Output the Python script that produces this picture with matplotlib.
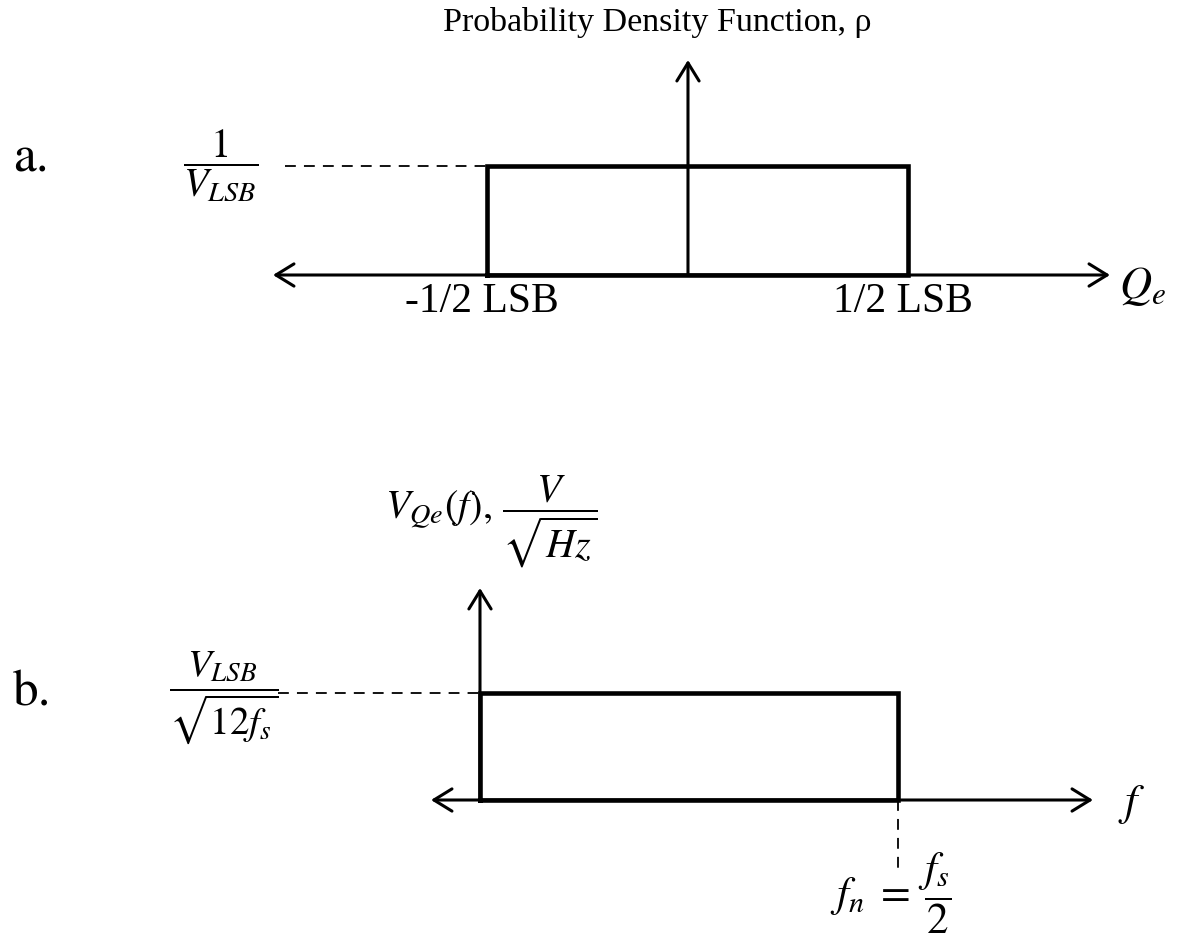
import matplotlib
matplotlib.use("Agg")
import matplotlib.pyplot as plt

# uniform quantization error: pdf height 1/V_LSB between -1/2 and +1/2 LSB
q_edges = [-0.5, 0.5]
pdf_level = 1.0
# quantization noise density, flat from dc up to f_n = f_s/2
f_edges = [0.0, 0.5]
noise_level = 1.0

W, H = 1183, 942
plt.rcParams["mathtext.fontset"] = "stix"
serif = ["Liberation Serif", "DejaVu Serif"]

fig = plt.figure(figsize=(W / 100, H / 100), dpi=100)


def px_axes(left, right, top, bottom):
    ax = fig.add_axes([left / W, 1 - bottom / H, (right - left) / W, (bottom - top) / H])
    ax.set_axis_off()
    return ax


def px_text(x, y, s, **kw):
    fig.text(x / W, 1 - y / H, s, **kw)


def arrow(ax, start, end, style, coords="axes fraction"):
    ax.annotate("", xy=end, xytext=start, xycoords=coords, textcoords=coords,
                arrowprops=dict(arrowstyle=style + ",head_length=0.65,head_width=0.4",
                                lw=2.2, color="black", mutation_scale=20,
                                shrinkA=0, shrinkB=0),
                annotation_clip=False)


def box(ax, edges, level):
    xs = [edges[0], edges[0], edges[1], edges[1], edges[0]]
    ys = [0, level, level, 0, 0]
    ax.plot(xs, ys, color="black", lw=3.3, solid_joinstyle="miter", clip_on=False)


# ---- a. probability density function ----
ax_a = px_axes(273, 1110, 60, 275)
ax_a.set_xlim(-1.0083, 0.9798)
ax_a.set_ylim(0, 1.972)
arrow(ax_a, (0, 0), (1, 0), "<->")
arrow(ax_a, (0.4958, 0), (0.4958, 1), "->")
box(ax_a, q_edges, pdf_level)
ax_a.plot([-0.98, q_edges[0]], [pdf_level, pdf_level], color="black", lw=1.3,
          dashes=(6, 4.5), clip_on=False)

px_text(657, 22, "Probability Density Function, \u03c1", fontsize=24.5,
        family=serif, ha="center", va="center")
px_text(13, 171, "a.", fontsize=37, family="STIXGeneral", ha="left", va="baseline")
px_text(221, 166, r"$\dfrac{1}{V_{LSB}}$", fontsize=29, ha="center", va="center")
px_text(482, 312, "-1/2 LSB", fontsize=30, family=serif, ha="center", va="baseline")
px_text(903, 312, "1/2 LSB", fontsize=30, family=serif, ha="center", va="baseline")
px_text(1119, 287, r"$Q_e$", fontsize=32, ha="left", va="center")

# ---- b. noise spectral density ----
ax_b = px_axes(431, 1093, 588, 800)
ax_b.set_xlim(-0.0586, 0.7333)
ax_b.set_ylim(0, 1.981)
arrow(ax_b, (0, 0), (1, 0), "<->")
arrow(ax_b, (f_edges[0], 0), (f_edges[0], 1.981), "->", coords="data")
box(ax_b, f_edges, noise_level)
ax_b.plot([-0.2416, f_edges[0]], [noise_level, noise_level], color="black", lw=1.3,
          dashes=(6, 4.5), clip_on=False)
ax_b.plot([f_edges[1], f_edges[1]], [0, -0.654], color="black", lw=1.3,
          dashes=(6, 4.5), clip_on=False)

px_text(13, 706, "b.", fontsize=37, family="STIXGeneral", ha="left", va="baseline")
px_text(224, 698, r"$\dfrac{V_{LSB}}{\sqrt{12f_s}}$", fontsize=28, ha="center", va="center")
px_text(385, 521, r"$V_{Qe}(f),\,\dfrac{V}{\sqrt{Hz}}$", fontsize=29, ha="left", va="center")
px_text(1118, 805, r"$f$", fontsize=32, ha="left", va="center")
px_text(830, 893, r"$f_n\;=\;\dfrac{f_s}{2}$", fontsize=31, ha="left", va="center")

fig.savefig("out.png", dpi=100, facecolor="white")
